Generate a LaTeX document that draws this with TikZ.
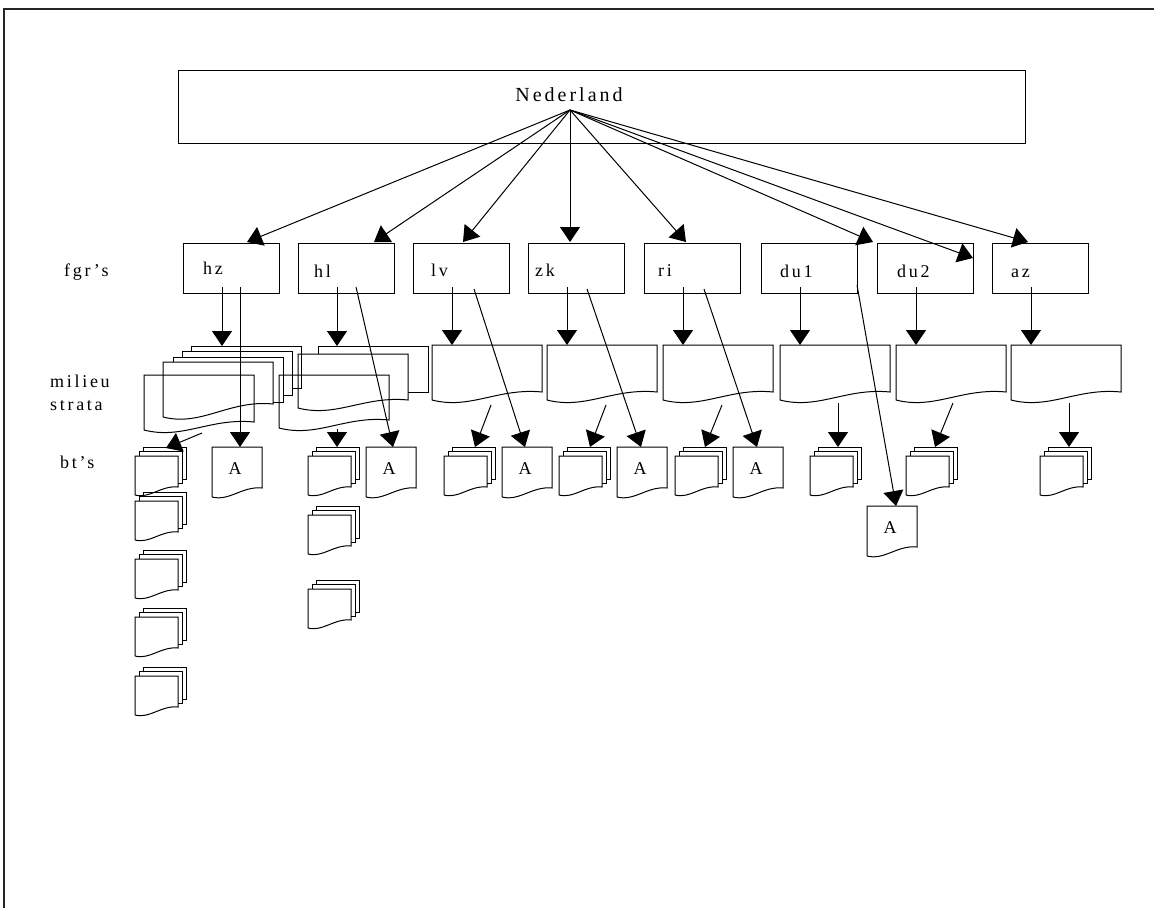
\documentclass[tikz,border=0pt]{standalone}
\usepackage{fontspec}
\setmainfont{Liberation Serif}
\newfontfamily\spacedserif{Liberation Serif}[LetterSpace=15]
\usetikzlibrary{arrows.meta,calc}

\tikzset{
  ln/.style={line width=1pt, draw=black},
  fgrbox/.style={ln, rectangle, inner sep=0pt, minimum width=96pt, minimum height=50pt, anchor=north west},
  lbl/.style={font=\spacedserif\fontsize{18}{21}\selectfont, inner sep=0pt, anchor=base west},
  arr/.style={ln, -{Triangle[length=15pt,width=20pt]}},
  % document page with a wavy lower edge: width, right height, left height
  pics/docpage/.style n args={3}{code={
    \draw[ln] (0,#3) -- (0,0) -- (#1,0) -- (#1,#2)
      .. controls ({0.6*#1},{#2-0.04*#1}) and ({0.35*#1},{#3+0.09*#1}) .. (0,#3);
  }},
  % a sheet behind another one: width, stub, height, step back to the next sheet
  pics/backpage/.style n args={4}{code={
    \draw[ln] (0,#2) -- (0,0) -- (#1,0) -- (#1,#3) -- ({#1-#4},#3);
  }},
  % small stack of three sheets
  pics/btstack/.style={code={
    \pic at (8,-9) {backpage={43}{4.5}{32}{4}};
    \pic at (4,-4.5) {backpage={43}{4.5}{31.5}{4}};
    \pic at (0,0) {docpage={43}{31}{39}};
  }},
  % single sheet marked A
  pics/adoc/.style={code={
    \pic at (0,0) {docpage={50}{41}{50}};
    \node[font=\fontsize{18}{21}\selectfont, inner sep=0pt, anchor=base] (-t) at (23,27) {A};
  }},
}

\begin{document}
\begin{tikzpicture}[x=1pt,y=-1pt]
\useasboundingbox (0,0) rectangle (1154,908);

% page rules
\draw[line width=1.3pt, black!85] (4,908) -- (4,9) -- (1154,9);

% country box
\node[ln, rectangle, inner sep=0pt, minimum width=847pt, minimum height=73pt, anchor=north west] (nl) at (178,70) {};
\node[font=\spacedserif\fontsize{20}{24}\selectfont, inner sep=0pt, anchor=base] (nl-t) at (569,101) {Nederland};
\coordinate (nl-c) at (570,110);

% row captions
\node[lbl] (cap-fgr) at (64,276) {fgr’s};
\node[lbl] (cap-mil) at (50,387) {milieu};
\node[lbl] (cap-str) at (50,410) {strata};
\node[lbl] (cap-bt) at (60,468) {bt’s};

% fgr boxes
\foreach \n/\x in {hz/183, hl/298, lv/413, zk/528, ri/644, du1/761, du2/877, az/992}
  \node[fgrbox] (\n) at (\x,243) {};
\node[lbl] (hz-t) at (203,274) {hz};
\node[lbl] (hl-t) at (314,277) {hl};
\node[lbl] (lv-t) at (431,276) {lv};
\node[lbl] (zk-t) at (535,276) {zk};
\node[lbl] (ri-t) at (658,276) {ri};
\node[lbl] (du1-t) at (780,277) {du1};
\node[lbl] (du2-t) at (897,277) {du2};
\node[lbl] (az-t) at (1011,277) {az};

% milieu strata, single sheets
\foreach \n/\x in {lv/432, zk/547, ri/663, du1/780, du2/896, az/1011} {
  \coordinate (\n-m) at (\x,345);
  \pic at (\n-m) {docpage={110}{47}{55}};
}
% hz: stacked sheets plus a loose sheet in front
\coordinate (hz-m5) at (191,346); \pic at (hz-m5) {backpage={110}{5}{42}{9}};
\coordinate (hz-m4) at (182,351); \pic at (hz-m4) {backpage={110}{6}{44}{9}};
\coordinate (hz-m3) at (173,357); \pic at (hz-m3) {backpage={110}{5}{45}{10}};
\coordinate (hz-m2) at (163,362); \pic at (hz-m2) {docpage={110}{42}{55}};
\coordinate (hz-m1) at (144,375); \pic at (hz-m1) {docpage={110}{47}{55}};
% hl: two stacked sheets plus a loose sheet in front
\coordinate (hl-m3) at (318,346); \pic at (hl-m3) {backpage={110}{8}{46}{20}};
\coordinate (hl-m2) at (298,354); \pic at (hl-m2) {docpage={110}{46}{54}};
\coordinate (hl-m1) at (279,375); \pic at (hl-m1) {docpage={110}{45}{53}};

% bt stacks
\foreach \n/\x/\y in {hz-b1/135/456, hz-b2/135/501, hz-b3/135/559, hz-b4/135/617, hz-b5/135/676,
                      hl-b1/308/456, hl-b2/308/515, hl-b3/308/589,
                      lv-b/444/456, zk-b/559/456, ri-b/675/456, du1-b/810/456, du2-b/906/456, az-b/1040/456} {
  \coordinate (\n) at (\x,\y);
  \pic at (\n) {btstack};
}

% A sheets
\foreach \n/\x/\y in {hz-a/212/447, hl-a/366/447, lv-a/502/447, zk-a/617/447, ri-a/733/447, du1-a/867/506} {
  \coordinate (\n) at (\x,\y);
  \pic (\n) at (\n) {adoc};
}

% Nederland -> fgr
\draw[arr] (nl-c) -- ($(hz.north west)+(64,-1)$);
\draw[arr] (nl-c) -- ($(hl.north west)+(76,-1)$);
\draw[arr] (nl-c) -- ($(lv.north west)+(50,-1)$);
\draw[arr] (nl-c) -- ($(zk.north west)+(42,-1)$);
\draw[arr] (nl-c) -- ($(ri.north west)+(42,-1)$);
\draw[arr] (nl-c) -- ($(du1.north west)+(112,-1)$);
\draw[arr] (nl-c) -- ($(du2.north west)+(96,15)$);
\draw[arr] (nl-c) -- ($(az.north west)+(36,-1)$);

% fgr -> milieu strata
\draw[arr] ($(hz.north west)+(39,44)$) -- ($(hz-m5)+(31,0)$);
\draw[arr] ($(hl.north west)+(39,44)$) -- ($(hl-m3)+(19,0)$);
\foreach \n in {lv,zk,ri,du1,du2,az}
  \draw[arr] ($(\n.north west)+(39,44)$) -- ($(\n-m)+(20,0)$);

% fgr -> A
\draw[arr] ($(hz.north west)+(57,44)$) -- ($(hz-a)+(28,0)$);
\draw[arr] ($(hl.north west)+(58,44)$) -- ($(hl-a)+(27,0)$);
\draw[arr] ($(lv.north west)+(61,46)$) -- ($(lv-a)+(23,0)$);
\draw[arr] ($(zk.north west)+(59,46)$) -- ($(zk-a)+(24,0)$);
\draw[arr] ($(ri.north west)+(60,46)$) -- ($(ri-a)+(24,0)$);
\draw[arr] ($(du1.north west)+(96,42)$) -- ($(du1-a)+(29,0)$);

% milieu strata -> bt
\draw[arr] ($(hz-m1)+(58,58)$) -- ($(hz-b1)+(31,-8)$);
\draw[arr] ($(hl-m1)+(58,54)$) -- ($(hl-b1)+(29,-9)$);
\draw[arr] ($(lv-m)+(59,60)$) -- ($(lv-b)+(31,-9)$);
\draw[arr] ($(zk-m)+(59,60)$) -- ($(zk-b)+(31,-9)$);
\draw[arr] ($(ri-m)+(59,60)$) -- ($(ri-b)+(30,-9)$);
\draw[arr] ($(du1-m)+(58,58)$) -- ($(du1-b)+(28,-9)$);
\draw[arr] ($(du2-m)+(57,58)$) -- ($(du2-b)+(29,-9)$);
\draw[arr] ($(az-m)+(58,58)$) -- ($(az-b)+(29,-9)$);
\end{tikzpicture}
\end{document}
